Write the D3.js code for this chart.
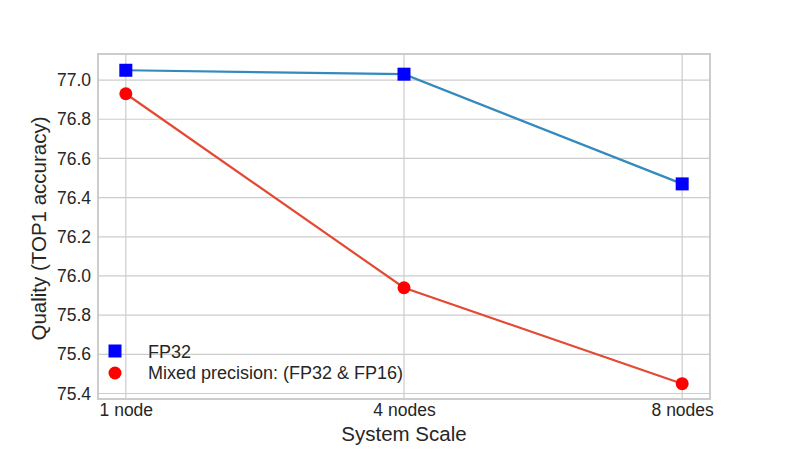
<!DOCTYPE html>
<html>
<head>
<meta charset="utf-8">
<script src="https://cdn.jsdelivr.net/npm/d3@7"></script>
<style>
  body { margin: 0; background: #fff; }
  text { font-family: "Liberation Sans", Arial, sans-serif; fill: #262626; }
</style>
</head>
<body>
<div id="chart-wrap"></div>
<script>
const categories = ["1 node", "4 nodes", "8 nodes"];
const fp32 = [77.05, 77.03, 76.47];
const mixed = [76.93, 75.94, 75.45];
const yTicks = [75.4, 75.6, 75.8, 76.0, 76.2, 76.4, 76.6, 76.8, 77.0];
const seriesNames = ["FP32", "Mixed precision: (FP32 & FP16)"];

const width = 789;
const height = 457;
const margin = {top: 54, bottom: 58, left: 98, right: 79};
const innerW = width - margin.left - margin.right;
const innerH = height - margin.top - margin.bottom;

const svg = d3.select("#chart-wrap")
  .append("svg")
  .attr("width", width)
  .attr("height", height);

const g = svg.append("g")
  .attr("transform", "translate(" + margin.left + "," + margin.top + ")");

const x = d3.scaleLinear()
  .domain([-0.1, categories.length - 0.9])
  .range([0, innerW]);

const y = d3.scaleLinear()
  .domain([75.372, 77.133])
  .range([innerH, 0]);

// grid
g.append("g")
  .selectAll("line")
  .data(yTicks)
  .join("line")
  .attr("x1", 0).attr("x2", innerW)
  .attr("y1", d => y(d)).attr("y2", d => y(d))
  .attr("stroke", "#cccccc").attr("stroke-width", 1.2);

g.append("g")
  .selectAll("line")
  .data(categories)
  .join("line")
  .attr("x1", (d, i) => x(i)).attr("x2", (d, i) => x(i))
  .attr("y1", 0).attr("y2", innerH)
  .attr("stroke", "#cccccc").attr("stroke-width", 1.2);

// frame
g.append("rect")
  .attr("width", innerW).attr("height", innerH)
  .attr("fill", "none")
  .attr("stroke", "#cccccc").attr("stroke-width", 2);

// axes
const yAxis = g.append("g")
  .call(d3.axisLeft(y).tickValues(yTicks).tickFormat(d3.format(".1f")).tickSize(0).tickPadding(7));
yAxis.select(".domain").remove();
yAxis.selectAll("text").style("font-size", "17.5px").attr("fill", "#262626");

const xAxis = g.append("g")
  .attr("transform", "translate(0," + innerH + ")")
  .call(d3.axisBottom(x).tickValues(d3.range(categories.length)).tickFormat(i => categories[i]).tickSize(0).tickPadding(5));
xAxis.select(".domain").remove();
xAxis.selectAll("text").style("font-size", "17.5px").attr("fill", "#262626");

// labels
svg.append("text")
  .attr("x", margin.left + x(1))
  .attr("y", 441)
  .attr("text-anchor", "middle")
  .style("font-size", "20.5px")
  .text("System Scale");

svg.append("text")
  .attr("transform", "translate(46," + (margin.top + innerH / 2 + 2) + ") rotate(-90)")
  .attr("text-anchor", "middle")
  .style("font-size", "20.5px")
  .text("Quality (TOP1 accuracy)");

// lines
const line = d3.line()
  .x((d, i) => x(i))
  .y(d => y(d));

g.append("path")
  .datum(fp32)
  .attr("fill", "none")
  .attr("stroke", "#348abd")
  .attr("stroke-width", 2.2)
  .attr("d", line);

g.append("path")
  .datum(mixed)
  .attr("fill", "none")
  .attr("stroke", "#e24a33")
  .attr("stroke-width", 2.2)
  .attr("d", line);

// markers
g.selectAll("rect.fp")
  .data(fp32)
  .join("rect")
  .attr("x", (d, i) => x(i) - 6.5)
  .attr("y", d => y(d) - 6.5)
  .attr("width", 13).attr("height", 13)
  .attr("fill", "#0000ff");

g.selectAll("circle.mx")
  .data(mixed)
  .join("circle")
  .attr("cx", (d, i) => x(i))
  .attr("cy", d => y(d))
  .attr("r", 6.5)
  .attr("fill", "#ff0000");

// legend
const legend = svg.append("g").attr("transform", "translate(115,351)");
legend.append("rect")
  .attr("x", -6.5).attr("y", -6.5).attr("width", 13).attr("height", 13)
  .attr("fill", "#0000ff");
legend.append("circle")
  .attr("cx", 0).attr("cy", 22).attr("r", 6.5)
  .attr("fill", "#ff0000");
legend.selectAll("text")
  .data(seriesNames)
  .join("text")
  .attr("x", 33)
  .attr("y", (d, i) => i * 21 + 7)
  .style("font-size", "18px")
  .text(d => d);
</script>
</body>
</html>
